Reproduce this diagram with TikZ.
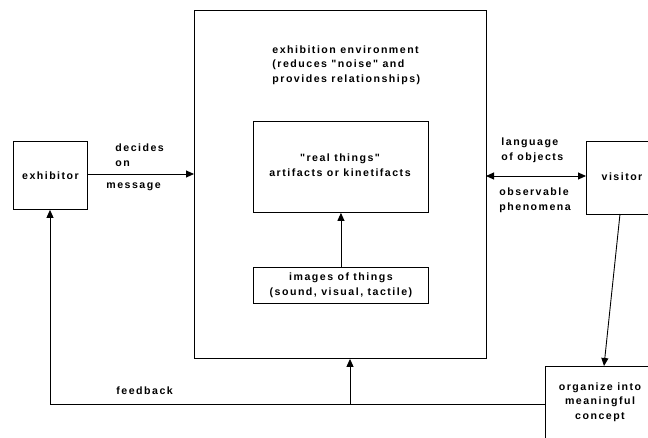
\documentclass[tikz,border=0pt]{standalone}
\usepackage{fontspec}
\setmainfont{Liberation Sans}[LetterSpace=14,Ligatures=TeXOff]
\usetikzlibrary{arrows.meta}
\begin{document}
\begin{tikzpicture}[x=1pt,y=-1pt,
  >={Triangle[length=8pt,width=7pt]},
  box/.style={draw,line width=0.9pt},
  txt/.style={font=\bfseries\fontsize{10.6}{14.6}\selectfont,inner sep=0pt,align=center},
  link/.style={line width=0.9pt,->},
  every path/.style={line width=0.9pt}]
\useasboundingbox (0,0) rectangle (648,437);
% boxes
\node[box,minimum width=74pt,minimum height=68pt,anchor=north west] (exh) at (13,141) {};
\node[txt] at (exh.center) {exhibitor};
\node[box,minimum width=292pt,minimum height=348pt,anchor=north west] (env) at (194,10) {};
\node[txt,align=left,anchor=west] (envt) at (272,65) {exhibition environment\\(reduces "noise" and\\provides relationships)};
\node[box,minimum width=175pt,minimum height=91pt,anchor=north west] (real) at (253,121) {};
\node[txt] at (340,165) {"real things"\\artifacts or kinetifacts};
\node[box,minimum width=175pt,minimum height=36pt,anchor=north west] (img) at (253,267) {};
\node[txt] at (img.center) {images of things\\(sound, visual, tactile)};
\node[box,minimum width=64pt,minimum height=73pt,anchor=north west] (vis) at (586,141) {};
\node[txt] at (622,177) {visitor};
\node[box,minimum width=106pt,minimum height=80pt,anchor=north west] (org) at (545,366) {};
\node[txt] at (600,402) {organize into\\meaningful\\concept};
% connector coordinates
\coordinate (m) at (87,174);
\coordinate (fbl) at (50,404);
\coordinate (fbm) at (350,404);
\coordinate (vs) at (620,214);
\coordinate (ot) at (604,366);
\coordinate (lo) at (486,176);
% connectors and their labels
\draw[link] (m) -- (m-|env.west);
\node[txt,align=left,anchor=west] at (115,155.5) {decides\\on};
\node[txt,anchor=west] at (106,187) {message};
\draw[<->] (lo) -- (lo-|vis.west);
\node[txt,align=left,anchor=west] at (501,150) {language\\of objects};
\node[txt,align=left,anchor=west] at (499,200) {observable\\phenomena};
\draw[link] (img.north) -- (real.south);
\draw[link] (vs) -- (ot);
\draw[link] (org.west|-fbl) -- (fbl) -- (exh.south-|fbl);
\draw[link] (fbm) -- (env.south-|fbm);
\node[txt,anchor=west] at (116,391) {feedback};
\end{tikzpicture}
\end{document}
